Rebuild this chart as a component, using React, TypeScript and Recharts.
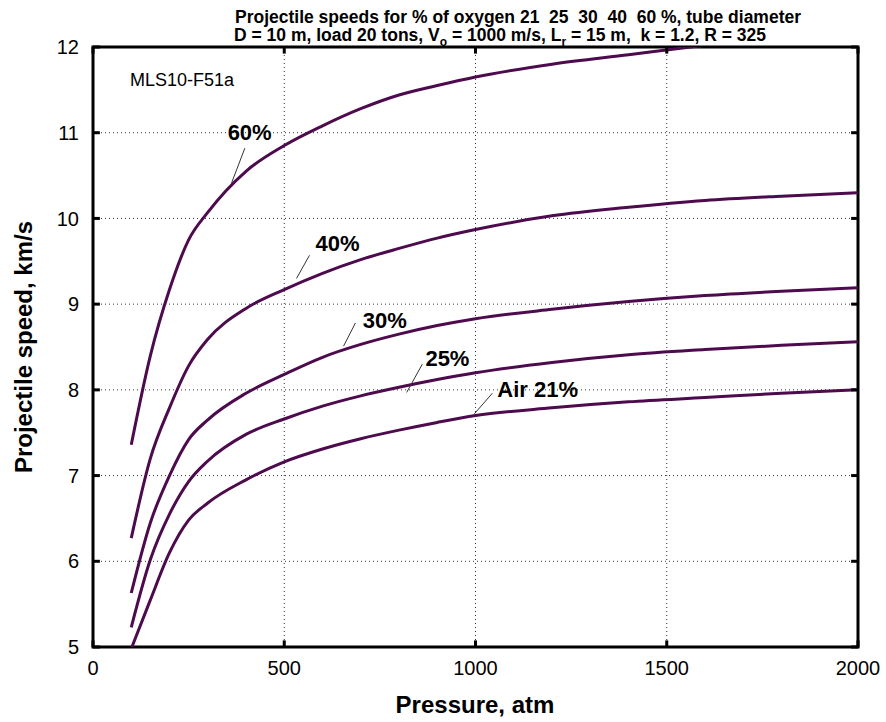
import React from 'react';
import { LineChart, Line, XAxis, YAxis, CartesianGrid, ReferenceLine, ReferenceDot, ReferenceArea } from 'recharts';

const pressure = [100, 150, 200, 250, 300, 400, 500, 600, 700, 800, 900, 1000, 1200, 1400, 1600, 1800, 2000];
const oxygen21 = [4.98, 5.55, 6.10, 6.48, 6.68, 6.95, 7.16, 7.31, 7.43, 7.53, 7.62, 7.70, 7.79, 7.86, 7.91, 7.96, 8.00];
const oxygen25 = [5.23, 6.02, 6.55, 6.93, 7.17, 7.48, 7.66, 7.81, 7.93, 8.03, 8.12, 8.20, 8.32, 8.41, 8.47, 8.52, 8.56];
const oxygen30 = [5.63, 6.45, 7.00, 7.42, 7.65, 7.96, 8.18, 8.38, 8.53, 8.65, 8.75, 8.83, 8.94, 9.03, 9.10, 9.15, 9.19];
const oxygen40 = [6.27, 7.20, 7.79, 8.28, 8.59, 8.95, 9.17, 9.36, 9.52, 9.65, 9.77, 9.87, 10.03, 10.13, 10.21, 10.26, 10.30];
const oxygen60 = [7.36, 8.40, 9.17, 9.75, 10.07, 10.55, 10.85, 11.08, 11.28, 11.44, 11.55, 11.65, 11.80, 11.91, 12.02, 12.12, 12.21];

const xTicks = [0, 500, 1000, 1500, 2000];
const yTicks = [5, 6, 7, 8, 9, 10, 11, 12];

const curveLabels = [
  { text: '60%', x: 352, y: 10.91, x1: 397, y1: 10.82, x2: 362, y2: 10.41 },
  { text: '40%', x: 582, y: 9.62, x1: 566, y1: 9.57, x2: 532, y2: 9.30 },
  { text: '30%', x: 705, y: 8.72, x1: 686, y1: 8.78, x2: 655, y2: 8.51 },
  { text: '25%', x: 869, y: 8.28, x1: 861, y1: 8.30, x2: 820, y2: 7.97 },
  { text: 'Air 21%', x: 1057, y: 7.92, x1: 1044, y1: 7.96, x2: 997, y2: 7.72 },
];

const data = pressure.map((p, i) => ({
  p,
  o21: oxygen21[i],
  o25: oxygen25[i],
  o30: oxygen30[i],
  o40: oxygen40[i],
  o60: oxygen60[i],
}));

const FONT = '"Liberation Sans", Arial, sans-serif';
const LINE = '#4d0a4d';

const X_MIN = xTicks[0];
const X_MAX = xTicks[xTicks.length - 1];
const Y_MIN = yTicks[0];
const Y_MAX = yTicks[yTicks.length - 1];
// inward tick length expressed as a fraction of each axis span
const X_TICK_LEN = (X_MAX - X_MIN) * 0.009;
const Y_TICK_LEN = (Y_MAX - Y_MIN) * 0.011;

const EmptyTick = () => <g />;

export default function App() {
  return (
    <div style={{ position: 'absolute', left: 0, top: 0, width: 886, height: 722, background: '#fff', fontFamily: FONT }}>
      <LineChart width={886} height={722} data={data} margin={{ top: 47, right: 28, bottom: 45, left: 33 }}>
        <CartesianGrid stroke="#333" strokeDasharray="1 3" strokeWidth={1} />
        <XAxis
          dataKey="p"
          type="number"
          domain={[X_MIN, X_MAX]}
          ticks={xTicks}
          height={30}
          axisLine={false}
          tickLine={false}
          tickMargin={8}
          tick={{ fill: '#000', fontSize: 20, fontFamily: FONT }}
          allowDataOverflow
        />
        <YAxis
          type="number"
          domain={[Y_MIN, Y_MAX]}
          ticks={yTicks}
          width={60}
          axisLine={false}
          tickLine={false}
          tickMargin={8}
          tick={{ fill: '#000', fontSize: 20, fontFamily: FONT }}
          allowDataOverflow
        />
        <Line dataKey="o21" stroke={LINE} strokeWidth={3} dot={false} type="monotone" isAnimationActive={false} />
        <Line dataKey="o25" stroke={LINE} strokeWidth={3} dot={false} type="monotone" isAnimationActive={false} />
        <Line dataKey="o30" stroke={LINE} strokeWidth={3} dot={false} type="monotone" isAnimationActive={false} />
        <Line dataKey="o40" stroke={LINE} strokeWidth={3} dot={false} type="monotone" isAnimationActive={false} />
        <Line dataKey="o60" stroke={LINE} strokeWidth={3} dot={false} type="monotone" isAnimationActive={false} />
        {xTicks.map((t) => (
          <ReferenceLine key={'xb' + t} segment={[{ x: t, y: Y_MIN }, { x: t, y: Y_MIN + Y_TICK_LEN }]} stroke="#000" strokeWidth={3} ifOverflow="visible" />
        ))}
        {xTicks.map((t) => (
          <ReferenceLine key={'xt' + t} segment={[{ x: t, y: Y_MAX }, { x: t, y: Y_MAX - Y_TICK_LEN }]} stroke="#000" strokeWidth={3} ifOverflow="visible" />
        ))}
        {yTicks.map((t) => (
          <ReferenceLine key={'yl' + t} segment={[{ x: X_MIN, y: t }, { x: X_MIN + X_TICK_LEN, y: t }]} stroke="#000" strokeWidth={3} ifOverflow="visible" />
        ))}
        {yTicks.map((t) => (
          <ReferenceLine key={'yr' + t} segment={[{ x: X_MAX, y: t }, { x: X_MAX - X_TICK_LEN, y: t }]} stroke="#000" strokeWidth={3} ifOverflow="visible" />
        ))}
        <ReferenceArea
          x1={X_MIN}
          x2={X_MAX}
          y1={Y_MIN}
          y2={Y_MAX}
          fill="none"
          fillOpacity={0}
          stroke="#000"
          strokeWidth={3}
          strokeOpacity={1}
          ifOverflow="visible"
        />
        {curveLabels.map((l) => (
          <ReferenceLine
            key={'seg' + l.text}
            segment={[{ x: l.x1, y: l.y1 }, { x: l.x2, y: l.y2 }]}
            stroke="#333"
            strokeWidth={1}
          />
        ))}
        {curveLabels.map((l) => (
          <ReferenceDot
            key={'lab' + l.text}
            x={l.x}
            y={l.y}
            r={0}
            shape={(props: any) => (
              <text x={props.cx} y={props.cy} fontSize={22} fontWeight="bold" fontFamily={FONT} fill="#000">
                {l.text}
              </text>
            )}
          />
        ))}
      </LineChart>
      <svg width={886} height={722} style={{ position: 'absolute', left: 0, top: 0, pointerEvents: 'none' }}>
        <text x={518} y={23} textAnchor="middle" fontSize={17.5} fontWeight="bold" fontFamily={FONT} style={{ whiteSpace: 'pre' }}>
          {'Projectile speeds for % of oxygen 21  25  30  40  60 %, tube diameter'}
        </text>
        <text x={500} y={41} textAnchor="middle" fontSize={17.5} fontWeight="bold" fontFamily={FONT} style={{ whiteSpace: 'pre' }}>
          <tspan>{'D = 10 m, load 20 tons, V'}</tspan>
          <tspan dy={5} fontSize={12}>o</tspan>
          <tspan dy={-5}>{' = 1000 m/s, L'}</tspan>
          <tspan dy={5} fontSize={12}>r</tspan>
          <tspan dy={-5}>{' = 15 m,  k = 1.2, R = 325'}</tspan>
        </text>
        <text x={130} y={86} fontSize={18} fontFamily={FONT}>MLS10-F51a</text>
        <text x={475} y={713} textAnchor="middle" fontSize={24} fontWeight="bold" fontFamily={FONT}>Pressure, atm</text>
        <text transform="translate(32,347) rotate(-90)" textAnchor="middle" fontSize={24} fontWeight="bold" fontFamily={FONT}>
          Projectile speed, km/s
        </text>
      </svg>
    </div>
  );
}
